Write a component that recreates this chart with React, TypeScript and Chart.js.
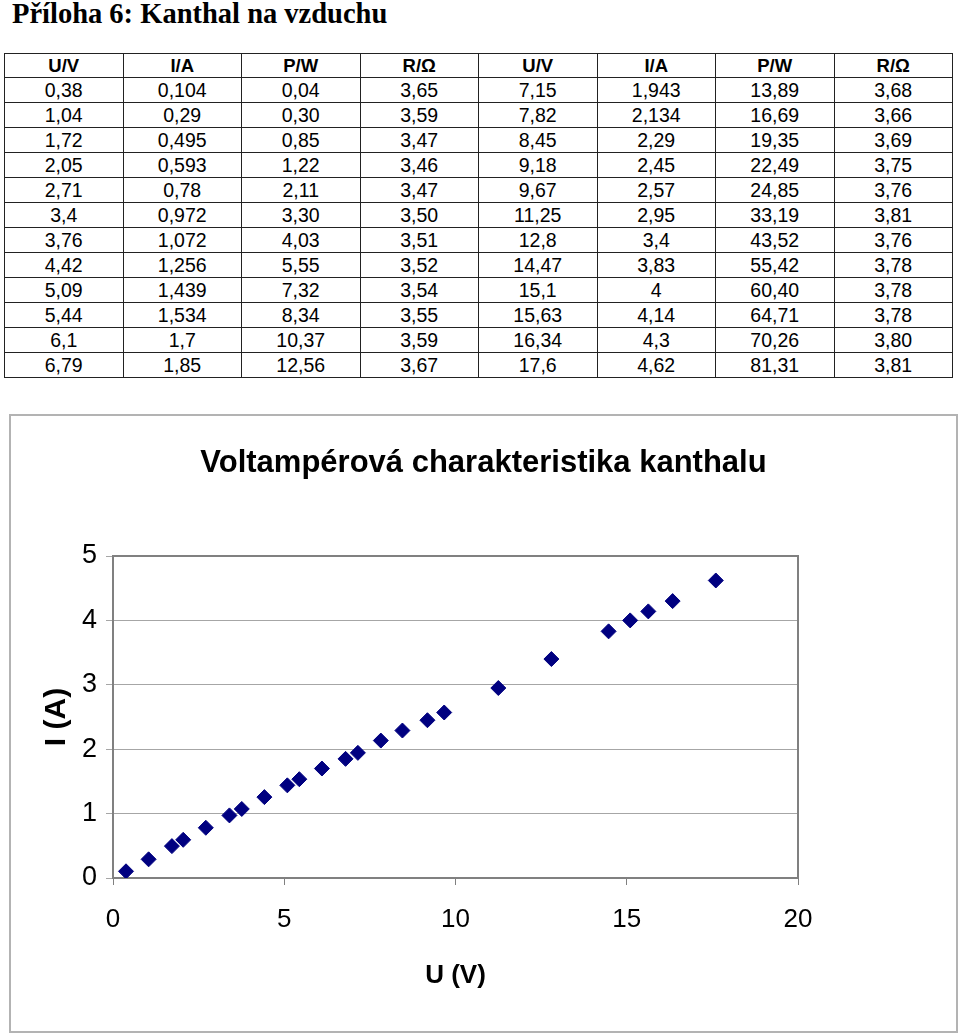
import React, { useEffect, useRef } from "react";
import { Chart, registerables } from "chart.js";

Chart.register(...registerables);

// ---- Data ----
const headers = ["U/V", "I/A", "P/W", "R/Ω"];
const voltage = ["0,38", "1,04", "1,72", "2,05", "2,71", "3,4", "3,76", "4,42", "5,09", "5,44", "6,1", "6,79", "7,15", "7,82", "8,45", "9,18", "9,67", "11,25", "12,8", "14,47", "15,1", "15,63", "16,34", "17,6"];
const current = ["0,104", "0,29", "0,495", "0,593", "0,78", "0,972", "1,072", "1,256", "1,439", "1,534", "1,7", "1,85", "1,943", "2,134", "2,29", "2,45", "2,57", "2,95", "3,4", "3,83", "4", "4,14", "4,3", "4,62"];
const power = ["0,04", "0,30", "0,85", "1,22", "2,11", "3,30", "4,03", "5,55", "7,32", "8,34", "10,37", "12,56", "13,89", "16,69", "19,35", "22,49", "24,85", "33,19", "43,52", "55,42", "60,40", "64,71", "70,26", "81,31"];
const resistance = ["3,65", "3,59", "3,47", "3,46", "3,47", "3,50", "3,51", "3,52", "3,54", "3,55", "3,59", "3,67", "3,68", "3,66", "3,69", "3,75", "3,76", "3,81", "3,76", "3,78", "3,78", "3,78", "3,80", "3,81"];

const pageTitle = "Příloha 6: Kanthal na vzduchu";
const chartTitle = "Voltampérová charakteristika kanthalu";
const xAxisTitle = "U (V)";
const yAxisTitle = "I (A)";
const xMin = 0, xMax = 20, xStep = 5;
const yMin = 0, yMax = 5, yStep = 1;

const num = (s: string) => parseFloat(s.replace(",", "."));

const SANS = "'Liberation Sans', Arial, Helvetica, sans-serif";

const framePlugin = {
  id: "plotFrame",
  beforeDatasetsDraw(chart: any) {
    const { ctx, chartArea } = chart;
    ctx.save();
    ctx.strokeStyle = "#808080";
    ctx.lineWidth = 2;
    ctx.strokeRect(chartArea.left, chartArea.top, chartArea.right - chartArea.left, chartArea.bottom - chartArea.top);
    ctx.restore();
  },
};

function VAChart() {
  const ref = useRef<HTMLCanvasElement | null>(null);
  useEffect(() => {
    if (!ref.current) return;
    const points = voltage.map((u, i) => ({ x: num(u), y: num(current[i]) }));
    const chart = new Chart(ref.current, {
      type: "scatter",
      data: {
        datasets: [
          {
            label: "I",
            data: points,
            pointStyle: "rectRot",
            pointRadius: 7.5,
            pointBackgroundColor: "#000080",
            pointBorderColor: "#000080",
            pointBorderWidth: 1,
            showLine: false,
          },
        ],
      },
      options: {
        animation: false,
        responsive: false,
        devicePixelRatio: 1,
        layout: { padding: 0 },
        plugins: {
          legend: { display: false },
          tooltip: { enabled: false },
          title: {
            display: true,
            text: chartTitle,
            color: "#000",
            font: { family: SANS, size: 31, weight: "bold", lineHeight: 1.2 },
            padding: { top: 28.4, bottom: 74.4 },
          },
        },
        scales: {
          x: {
            type: "linear",
            min: xMin,
            max: xMax,
            ticks: {
              stepSize: xStep,
              color: "#000",
              font: { family: SANS, size: 26 },
              padding: 19,
              maxRotation: 0,
            },
            grid: {
              drawOnChartArea: false,
              drawTicks: true,
              tickLength: 7,
              color: "#808080",
              lineWidth: 1,
            },
            border: { display: true, color: "#808080", width: 2 },
            title: {
              display: true,
              text: xAxisTitle,
              color: "#000",
              font: { family: SANS, size: 26, weight: "bold", lineHeight: 1.2 },
              padding: { top: 0, bottom: 40 },
            },
            afterFit(scale: any) {
              scale.height = 153;
            },
          },
          y: {
            type: "linear",
            position: "left",
            min: yMin,
            max: yMax,
            ticks: {
              stepSize: yStep,
              color: "#000",
              font: { family: SANS, size: 27 },
              padding: 9,
            },
            grid: {
              drawTicks: true,
              tickLength: 7,
              color: "#a6a6a6",
              lineWidth: 1,
            },
            border: { display: true, color: "#808080", width: 2 },
            title: {
              display: true,
              text: yAxisTitle,
              color: "#000",
              font: { family: SANS, size: 30, weight: "bold", lineHeight: 1.2 },
              padding: { top: 28, bottom: 0 },
            },
            afterFit(scale: any) {
              scale.width = 102;
            },
          },
          spacer: {
            type: "linear",
            position: "right",
            display: true,
            ticks: { display: false },
            grid: { display: false, drawTicks: false },
            border: { display: false },
            title: { display: false },
            afterFit(scale: any) {
              scale.width = 158;
            },
          },
        },
      },
      plugins: [framePlugin],
    });
    return () => chart.destroy();
  }, []);
  return (
    <canvas
      ref={ref}
      width={945}
      height={615}
      style={{ position: "absolute", left: 11, top: 416, width: 945, height: 615 }}
    />
  );
}

export default function App() {
  const rows = Array.from({ length: 12 }, (_, i) => i);
  const cell: React.CSSProperties = {
    border: "1px solid #222",
    padding: 0,
    textAlign: "center",
    verticalAlign: "middle",
    width: "12.5%",
  };
  return (
    <div style={{ position: "absolute", left: 0, top: 0, width: 960, height: 1036, background: "#fff" }}>
      <div
        style={{
          position: "absolute",
          left: 12,
          top: -2,
          margin: 0,
          fontFamily: "'Liberation Serif', 'Times New Roman', serif",
          fontWeight: "bold",
          fontSize: 28.5,
          lineHeight: "32px",
          color: "#000",
          whiteSpace: "nowrap",
        }}
      >
        {pageTitle}
      </div>
      <table
        style={{
          position: "absolute",
          left: 4,
          top: 53,
          width: 949,
          borderCollapse: "collapse",
          tableLayout: "fixed",
          fontFamily: SANS,
          fontSize: 19.5,
          color: "#000",
        }}
      >
        <tbody>
          <tr style={{ height: 24 }}>
            {[...headers, ...headers].map((h, k) => (
              <td key={k} style={{ ...cell, fontWeight: "bold", fontSize: 18.5 }}>
                {h}
              </td>
            ))}
          </tr>
          {rows.map((i) => (
            <tr key={i} style={{ height: 25 }}>
              <td style={cell}>{voltage[i]}</td>
              <td style={cell}>{current[i]}</td>
              <td style={cell}>{power[i]}</td>
              <td style={cell}>{resistance[i]}</td>
              <td style={cell}>{voltage[i + 12]}</td>
              <td style={cell}>{current[i + 12]}</td>
              <td style={cell}>{power[i + 12]}</td>
              <td style={cell}>{resistance[i + 12]}</td>
            </tr>
          ))}
        </tbody>
      </table>
      <div
        style={{
          position: "absolute",
          left: 9,
          top: 414,
          width: 945,
          height: 615,
          border: "2px solid #b3b3b3",
        }}
      />
      <VAChart />
    </div>
  );
}
